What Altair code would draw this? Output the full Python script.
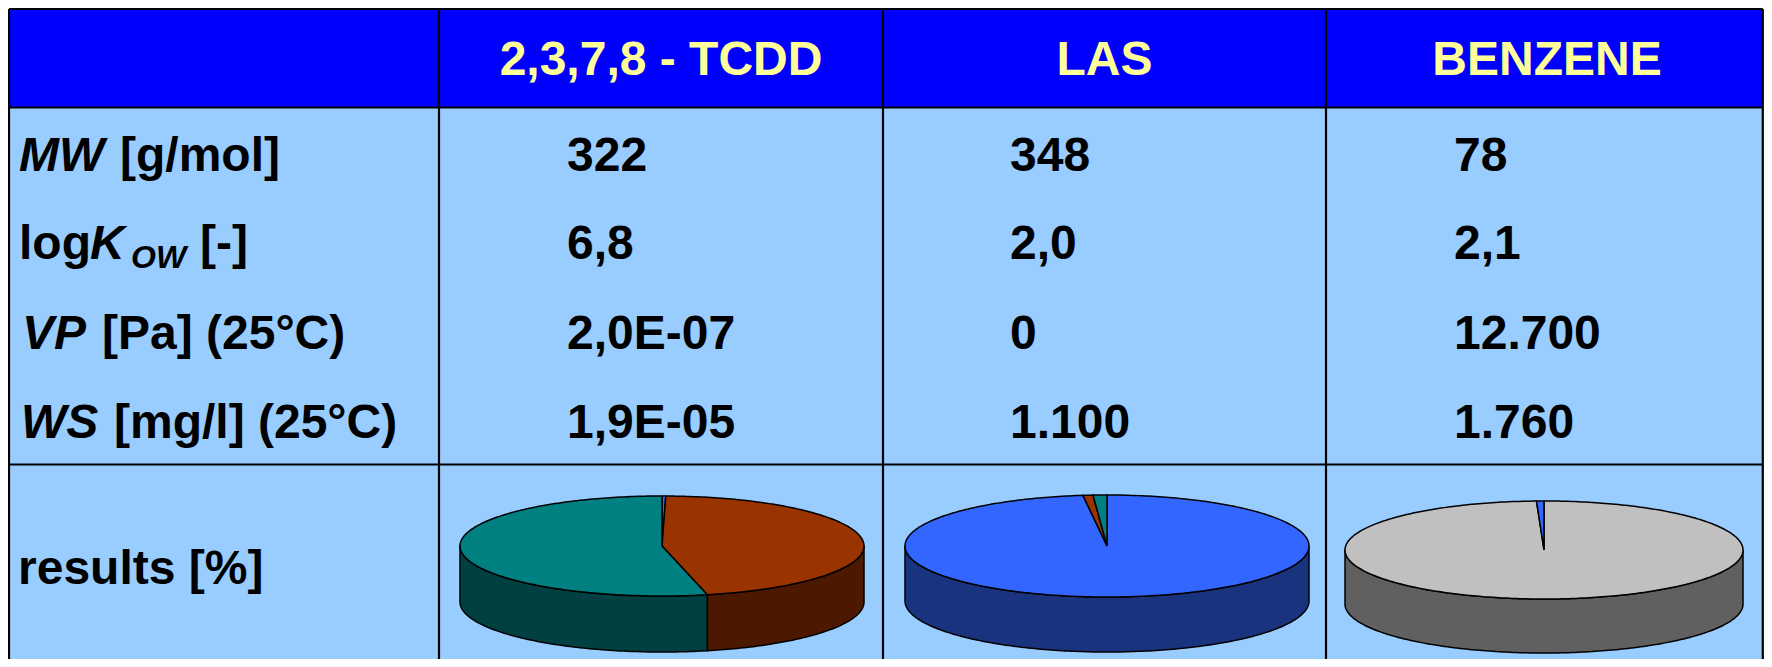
import altair as alt
import numpy as np
import pandas as pd

# ---------------- data ----------------
compounds = ["2,3,7,8 - TCDD", "LAS", "BENZENE"]
mw_values = ["322", "348", "78"]
logkow_values = ["6,8", "2,0", "2,1"]
vp_values = ["2,0E-07", "0", "12.700"]
ws_values = ["1,9E-05", "1.100", "1.760"]
results_label = "results [%]"

# pie results [%], slices listed clockwise from 12 o'clock
tcdd_compartments = ["Water", "Soil", "Sediment"]
tcdd_pct = [0.3, 46.1, 53.6]
las_compartments = ["Water", "Soil", "Sediment"]
las_pct = [98.1, 0.8, 1.1]
benzene_compartments = ["Air", "Water"]
benzene_pct = [99.4, 0.6]

top_colors = {"Water": "#3366FF", "Soil": "#993300", "Sediment": "#008080", "Air": "#C0C0C0"}
side_colors = {"Water": "#1A337F", "Soil": "#4C1900", "Sediment": "#004040", "Air": "#606060"}

# ---------------- layout (page pixels) ----------------
W, H = 1756, 651
X0, Y0 = 8, 8
col_x = [9, 439, 883, 1326, 1768]
right_visible = min(col_x[-1], X0 + W - 1.2)
row_top, header_bottom, sep_y, table_bottom = 9, 107.5, 464.5, 700
FONT = "Liberation Sans"
FS = 48

xs = alt.Scale(domain=[X0, X0 + W], range=[0, W], nice=False, zero=False)
ys = alt.Scale(domain=[Y0, Y0 + H], range=[0, H], nice=False, zero=False)

def X(f="x"):
    return alt.X(f"{f}:Q", scale=xs, axis=None)

def Y(f="y"):
    return alt.Y(f"{f}:Q", scale=ys, axis=None)

# cells
cells = pd.DataFrame([
    {"x": col_x[0], "x2": right_visible, "y": row_top, "y2": header_bottom, "c": "#0000FF"},
    {"x": col_x[0], "x2": right_visible, "y": header_bottom, "y2": table_bottom, "c": "#99CCFF"},
])
cell_layer = alt.Chart(cells).mark_rect().encode(
    x=X(), x2="x2:Q", y=Y(), y2="y2:Q", color=alt.Color("c:N", scale=None))

# borders
rules = []
for yy in [row_top, header_bottom, sep_y]:
    rules.append({"x": col_x[0], "x2": right_visible, "y": yy, "y2": yy})
for xx in col_x[:-1] + [right_visible]:
    rules.append({"x": xx, "x2": xx, "y": row_top, "y2": table_bottom})
rule_layer = alt.Chart(pd.DataFrame(rules)).mark_rule(color="black", strokeWidth=2.2).encode(
    x=X(), x2="x2:Q", y=Y(), y2="y2:Q")

# header text
centers = [(col_x[i + 1] + col_x[i + 2]) / 2 for i in range(3)]
hdr = pd.DataFrame({"x": centers, "y": [75] * 3, "t": compounds})
hdr_layer = alt.Chart(hdr).mark_text(font=FONT, fontWeight="bold", fontSize=FS, color="#FFFF99",
                                     align="center", baseline="alphabetic").encode(x=X(), y=Y(), text="t:N")

# values
val_x = [567, 1010, 1454]
row_base = [170.5, 258.5, 348.5, 437.5]
vals = []
for r, arr in enumerate([mw_values, logkow_values, vp_values, ws_values]):
    for c, v in enumerate(arr):
        vals.append({"x": val_x[c], "y": row_base[r], "t": v})
val_layer = alt.Chart(pd.DataFrame(vals)).mark_text(font=FONT, fontWeight="bold", fontSize=FS, color="black",
                                                    align="left", baseline="alphabetic").encode(x=X(), y=Y(), text="t:N")

# row labels (rich text split into pieces)
normal_parts = [
    {"x": 120, "y": row_base[0], "t": "[g/mol]"},
    {"x": 19, "y": row_base[1], "t": "log"},
    {"x": 200, "y": row_base[1], "t": "[-]"},
    {"x": 102, "y": row_base[2], "t": "[Pa] (25°C)"},
    {"x": 114, "y": row_base[3], "t": "[mg/l] (25°C)"},
    {"x": 18, "y": 584, "t": results_label},
]
italic_parts = [
    {"x": 19, "y": row_base[0], "t": "MW"},
    {"x": 90, "y": row_base[1], "t": "K"},
    {"x": 22, "y": row_base[2], "t": "VP"},
    {"x": 21, "y": row_base[3], "t": "WS"},
]
sub_parts = [{"x": 131, "y": 268, "t": "OW"}]

def text_layer(parts, style, size):
    return alt.Chart(pd.DataFrame(parts)).mark_text(
        font=FONT, fontWeight="bold", fontStyle=style, fontSize=size, color="black",
        align="left", baseline="alphabetic").encode(x=X(), y=Y(), text="t:N")

lab_layers = [text_layer(normal_parts, "normal", FS), text_layer(italic_parts, "italic", FS),
              text_layer(sub_parts, "italic", 32)]

# ---------------- 3D pies ----------------
pies = [
    (tcdd_compartments, tcdd_pct, 662, 546, 202, 50, 56),
    (las_compartments, las_pct, 1107, 546, 202, 51, 55),
    (benzene_compartments, benzene_pct, 1544, 550, 199, 49, 54),
]

def pt(cx, cy, rx, ry, t, dy=0.0):
    r = np.radians(t)
    return cx + rx * np.sin(r), cy - ry * np.cos(r) + dy

def arc_angles(a, b):
    n = max(2, int(np.ceil((b - a) / 1.0)) + 1)
    return np.linspace(a, b, n)

top_rows, side_rows = [], []
for p, (comps, pct, cx, cy, rx, ry, depth) in enumerate(pies):
    total = sum(pct)
    start = 0.0
    for k, (comp, v) in enumerate(zip(comps, pct)):
        a = start
        b = start + 360.0 * v / total
        start = b
        pid = f"p{p}s{k}"
        # top face
        pts = [(cx, cy)] + [pt(cx, cy, rx, ry, t) for t in arc_angles(a, b)] + [(cx, cy)]
        for i, (xx, yy) in enumerate(pts):
            top_rows.append({"poly": pid, "i": i, "x": xx, "y": yy, "fill": top_colors[comp]})
        # visible side (front half)
        lo, hi = max(a, 90.0), min(b, 270.0)
        if hi > lo:
            angs = arc_angles(lo, hi)
            spts = [pt(cx, cy, rx, ry, t) for t in angs] + [pt(cx, cy, rx, ry, t, depth) for t in angs[::-1]]
            spts.append(spts[0])
            for i, (xx, yy) in enumerate(spts):
                side_rows.append({"poly": pid, "i": i, "x": xx, "y": yy, "fill": side_colors[comp]})

def poly_layer(rows):
    return alt.Chart(pd.DataFrame(rows)).mark_line(
        stroke="black", strokeWidth=1.5, strokeJoin="round", interpolate="linear").encode(
        x=X(), y=Y(), detail="poly:N", order="i:Q", fill=alt.Fill("fill:N", scale=None))

chart = alt.layer(
    cell_layer, hdr_layer, val_layer, *lab_layers,
    poly_layer(side_rows), poly_layer(top_rows), rule_layer,
).properties(
    width=W, height=H, padding=0, autosize=alt.AutoSizeParams(type="none"), background="white"
).configure_view(stroke=None)

chart.save("out.html", embed_options={"renderer": "svg", "actions": False})
